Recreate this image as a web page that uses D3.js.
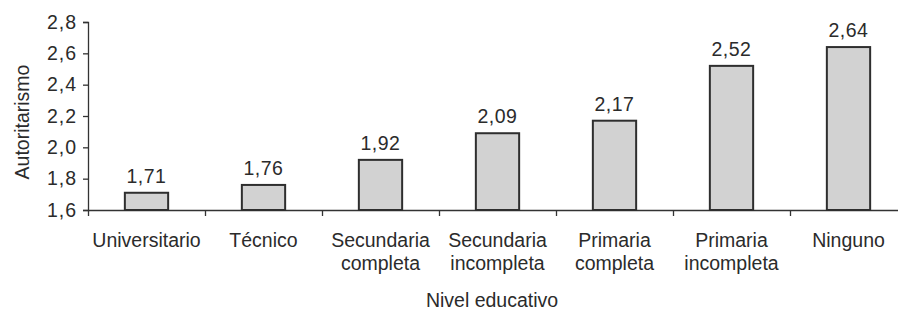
<!DOCTYPE html>
<html>
<head>
<meta charset="utf-8">
<script src="https://cdn.jsdelivr.net/npm/d3@7"></script>
<style>
  body { margin: 0; background: #fff; }
  text { font-family: "Liberation Sans", Arial, Helvetica, sans-serif; fill: #2b2b2b; }
</style>
</head>
<body>
<div id="chart"></div>
<script>
const categories = ["Universitario", "Técnico", "Secundaria completa", "Secundaria incompleta",
  "Primaria completa", "Primaria incompleta", "Ninguno"];
const values = [1.71, 1.76, 1.92, 2.09, 2.17, 2.52, 2.64];
const yTicks = [1.6, 1.8, 2.0, 2.2, 2.4, 2.6, 2.8];

const width = 898, height = 312;
const margin = {top: 22, right: -9, bottom: 102, left: 88};
const fontSize = 19.5;

const comma = d3.formatLocale({decimal: ",", thousands: ".", grouping: [3], currency: ["", ""]});
const fmt1 = comma.format(".1f");
const fmt2 = comma.format(".2f");

const svg = d3.select("#chart")
  .append("svg")
  .attr("width", width)
  .attr("height", height);

const x = d3.scaleBand()
  .domain(categories)
  .range([margin.left, width - margin.right])
  .paddingInner(0.63)
  .paddingOuter(0.315);

const xEdges = d3.scaleLinear()
  .domain([0, categories.length])
  .range([margin.left, width - margin.right]);

const y = d3.scaleLinear()
  .domain([1.6, 2.8])
  .range([height - margin.bottom, margin.top]);

// y axis
const yAxis = svg.append("g")
  .attr("transform", `translate(${margin.left},0)`)
  .call(d3.axisLeft(y).tickValues(yTicks).tickFormat(fmt1).tickSize(5).tickPadding(6));
yAxis.select(".domain").attr("stroke", "#333").attr("stroke-width", 1.3);
yAxis.selectAll(".tick line").attr("stroke", "#333").attr("stroke-width", 1.3);
yAxis.selectAll(".tick text")
  .style("font-size", fontSize + "px")
  .style("letter-spacing", "1px")
  .attr("fill", "#2b2b2b");

// x axis line with boundary ticks
const xAxis = svg.append("g")
  .attr("transform", `translate(0,${y(1.6)})`)
  .call(d3.axisBottom(xEdges).tickValues(d3.range(0, categories.length + 1))
    .tickSize(6).tickSizeOuter(0).tickFormat(""));
xAxis.select(".domain").attr("stroke", "#333").attr("stroke-width", 1.3);
xAxis.selectAll(".tick line").attr("stroke", "#333").attr("stroke-width", 1.3);

// bars
svg.append("g")
  .selectAll("rect")
  .data(values)
  .enter()
  .append("rect")
  .attr("x", (d, i) => x(categories[i]))
  .attr("y", d => y(d))
  .attr("width", x.bandwidth())
  .attr("height", d => y(1.6) - y(d))
  .attr("fill", "#d2d2d2")
  .attr("stroke", "#2e2e2e")
  .attr("stroke-width", 2);

// value labels
svg.append("g")
  .selectAll("text")
  .data(values)
  .enter()
  .append("text")
  .attr("x", (d, i) => x(categories[i]) + x.bandwidth() / 2)
  .attr("y", d => y(d) - 10)
  .attr("text-anchor", "middle")
  .style("font-size", fontSize + "px")
  .style("letter-spacing", "0.5px")
  .text(d => fmt2(d));

// category labels
const catLabels = svg.append("g")
  .selectAll("text")
  .data(categories)
  .enter()
  .append("text")
  .attr("text-anchor", "middle")
  .style("font-size", fontSize + "px")
  .attr("transform", (d, i) => `translate(${xEdges(i + 0.5)},${y(1.6) + 37})`);
catLabels.selectAll("tspan")
  .data(d => d.split(" "))
  .enter()
  .append("tspan")
  .attr("x", 0)
  .attr("dy", (d, i) => i === 0 ? 0 : 23)
  .text(d => d);

// axis titles
svg.append("text")
  .attr("x", 492)
  .attr("y", 307)
  .attr("text-anchor", "middle")
  .style("font-size", fontSize + "px")
  .text("Nivel educativo");

svg.append("text")
  .attr("text-anchor", "middle")
  .attr("transform", `translate(29,122)rotate(-90)`)
  .style("font-size", fontSize + "px")
  .text("Autoritarismo");
</script>
</body>
</html>
